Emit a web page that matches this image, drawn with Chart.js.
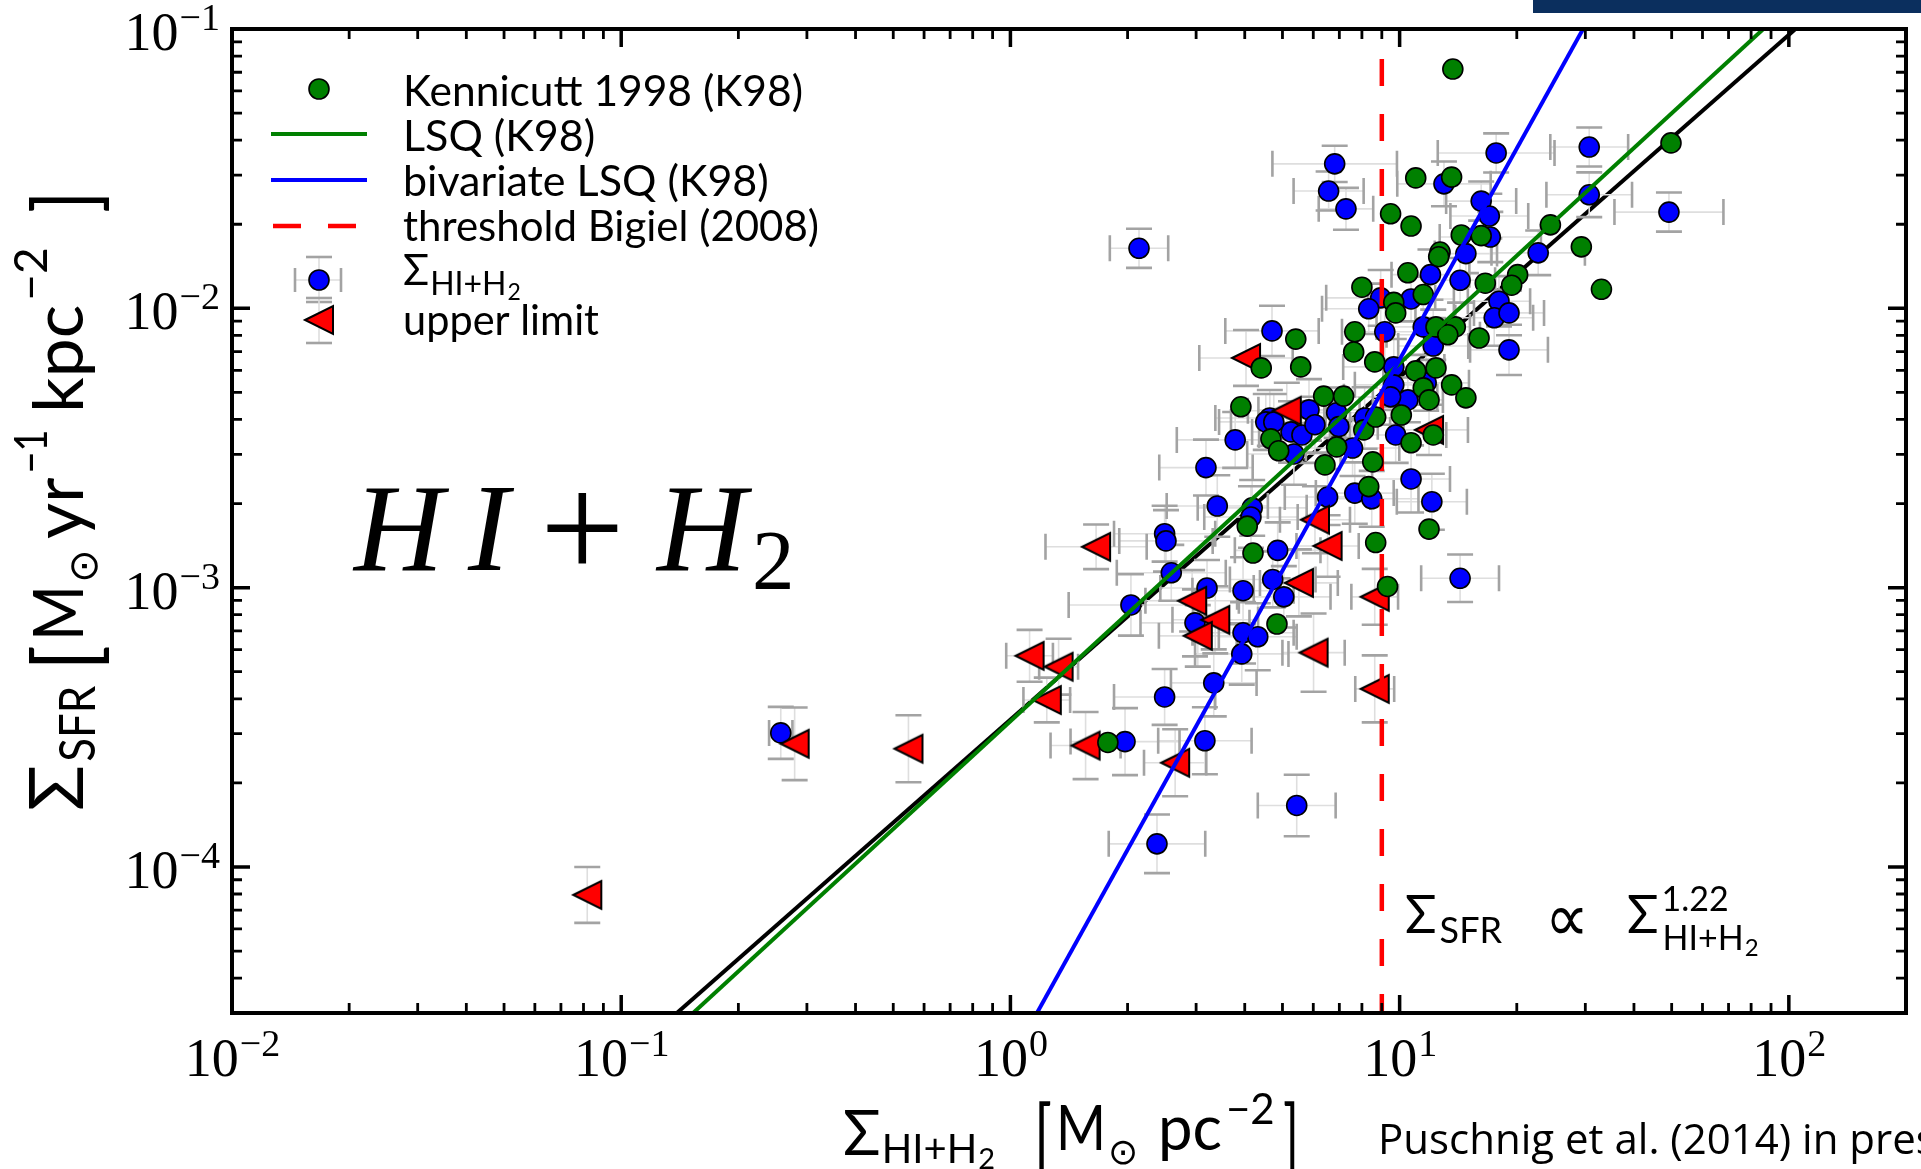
<!DOCTYPE html>
<html>
<head>
<meta charset="utf-8">
<title>SFR vs HI+H2 surface density</title>
<script src="https://cdn.jsdelivr.net/npm/chart.js@4.4.0/dist/chart.umd.min.js"></script>
<style>
  html, body { margin: 0; padding: 0; background: #fff; overflow: hidden; }
  #wrap { position: relative; width: 1921px; height: 1169px; }
</style>
</head>
<body>
<div id="wrap"><canvas id="sfrChart"></canvas></div>
<script>
// Kennicutt 1998 (K98) sample: gas surface density [Msun pc^-2], SFR density [Msun yr^-1 kpc^-2]
const k98Gas = [13.7, 49.8, 11.0, 13.6, 9.48, 10.7, 14.4, 16.2, 24.4, 29.3,
  12.7, 12.6, 10.5, 16.6, 20.1, 19.4, 33.0, 8.0, 9.66, 9.77,
  11.5, 5.41, 7.67, 12.4, 13.9, 13.3, 16.0, 4.41, 5.57, 7.62,
  8.63, 11.0, 12.4, 11.5, 13.6, 14.8, 11.9, 6.38, 7.18, 3.91,
  10.1, 4.67, 4.89, 6.89, 8.09, 8.68, 10.7, 12.2, 6.43, 8.53,
  8.33, 11.9, 8.68, 9.31, 4.06, 4.20, 4.84, 1.78];
const k98Sfr = [0.0719, 0.0391, 0.0293, 0.0295, 0.0218, 0.0197, 0.0183, 0.0182, 0.0199, 0.0166,
  0.0159, 0.0153, 0.0134, 0.0123, 0.0132, 0.0121, 0.0117, 0.0119, 0.0105, 0.00963,
  0.0112, 0.00776, 0.00824, 0.00858, 0.00858, 0.00804, 0.00783, 0.00612, 0.00617, 0.00698,
  0.00643, 0.00597, 0.00612, 0.00519, 0.00532, 0.00478, 0.00470, 0.00485, 0.00485, 0.00444,
  0.00415, 0.00341, 0.00309, 0.00319, 0.00367, 0.00408, 0.00330, 0.00352, 0.00275, 0.00282,
  0.00230, 0.00162, 0.00145, 0.00101, 0.00166, 0.00133, 0.000741, 0.000279];

// Sigma HI+H2 measurements, errors in dex
const hiH2Gas = [6.81, 6.57, 7.28, 2.14, 17.7, 30.7, 13.0, 16.2, 17.0, 30.7,
  49.2, 17.1, 14.8, 22.7, 12.0, 14.3, 8.94, 8.33, 10.7, 18.0,
  17.5, 19.1, 4.70, 9.16, 12.2, 12.2, 19.1, 9.66, 9.66, 11.7,
  10.5, 9.48, 5.85, 4.64, 6.89, 3.78, 4.53, 5.26, 5.61, 6.06,
  5.35, 6.98, 7.57, 8.13, 9.77, 3.18, 3.40, 6.53, 7.67, 8.48,
  10.7, 12.1, 14.3, 4.18, 4.15, 4.86, 2.49, 2.51, 2.59, 2.04,
  3.20, 3.96, 4.72, 5.04, 2.98, 3.96, 4.32, 3.93, 3.33, 2.49,
  1.97, 3.16, 0.257, 5.44, 2.38, 4.75, 11.5];
const hiH2Sfr = [0.0329, 0.0263, 0.0227, 0.0164, 0.0360, 0.0378, 0.0279, 0.0242, 0.0214, 0.0255,
  0.0221, 0.0180, 0.0157, 0.0158, 0.0132, 0.0126, 0.0109, 0.00996, 0.0108, 0.0106,
  0.00925, 0.00963, 0.00830, 0.00824, 0.00804, 0.00733, 0.00710, 0.00617, 0.00532, 0.00541,
  0.00470, 0.00482, 0.00433, 0.00405, 0.00423, 0.00338, 0.00392, 0.00361, 0.00352, 0.00383,
  0.00301, 0.00377, 0.00316, 0.00405, 0.00352, 0.00269, 0.00196, 0.00211, 0.00218, 0.00208,
  0.00245, 0.00203, 0.00108, 0.00193, 0.00179, 0.00136, 0.00156, 0.00147, 0.00113, 0.000867,
  0.000997, 0.000975, 0.00107, 0.000927, 0.000748, 0.000689, 0.000667, 0.000579, 0.000456, 0.000406,
  0.000281, 0.000283, 0.000302, 0.000166, 0.000121, 0.00392, 0.00858];
const hiH2GasErr = [0.16, 0.09, 0.07, 0.075, 0.15, 0.10, 0.12, 0.09, 0.10, 0.11,
  0.14, 0.13, 0.08, 0.12, 0.10, 0.09, 0.14, 0.12, 0.11, 0.08,
  0.10, 0.09, 0.12, 0.11, 0.12, 0.09, 0.10, 0.13, 0.10, 0.11,
  0.09, 0.12, 0.13, 0.14, 0.10, 0.15, 0.12, 0.10, 0.11, 0.09,
  0.12, 0.10, 0.12, 0.10, 0.13, 0.12, 0.13, 0.11, 0.10, 0.12,
  0.10, 0.09, 0.10, 0.14, 0.12, 0.11, 0.13, 0.12, 0.14, 0.16,
  0.12, 0.13, 0.11, 0.12, 0.14, 0.13, 0.10, 0.12, 0.11, 0.13,
  0.14, 0.12, 0.03, 0.10, 0.124, 0.11, 0.12];
const hiH2SfrErr = [0.065, 0.07, 0.075, 0.07, 0.07, 0.07, 0.08, 0.07, 0.08, 0.08,
  0.07, 0.09, 0.07, 0.08, 0.09, 0.08, 0.10, 0.09, 0.08, 0.09,
  0.10, 0.08, 0.09, 0.10, 0.09, 0.10, 0.09, 0.10, 0.09, 0.10,
  0.08, 0.10, 0.11, 0.10, 0.09, 0.10, 0.10, 0.11, 0.10, 0.10,
  0.11, 0.09, 0.10, 0.11, 0.10, 0.10, 0.11, 0.10, 0.11, 0.10,
  0.12, 0.10, 0.085, 0.10, 0.11, 0.10, 0.10, 0.11, 0.10, 0.11,
  0.10, 0.12, 0.10, 0.11, 0.12, 0.11, 0.12, 0.11, 0.12, 0.10,
  0.12, 0.12, 0.093, 0.11, 0.105, 0.10, 0.10];

// upper limits
const limGas = [4.03, 5.13, 11.9, 6.06, 6.53, 5.51, 1.66, 2.93, 3.36, 3.03,
  6.01, 8.63, 8.63, 1.12, 1.33, 1.24, 1.56, 2.65, 0.279, 0.547, 0.0818];
const limSfr = [0.00664, 0.00430, 0.00367, 0.00175, 0.00141, 0.00104, 0.00140, 0.000897, 0.000767, 0.000672,
  0.000585, 0.000927, 0.000434, 0.000570, 0.000521, 0.000396, 0.000272, 0.000236, 0.000276, 0.000265, 0.0000794];
const limGasErr = [0.12, 0.10, 0.10, 0.09, 0.08, 0.10, 0.13, 0.12, 0.11, 0.10,
  0.08, 0.06, 0.05, 0.06, 0.05, 0.06, 0.09, 0.08, 0, 0, 0];
const limSfrErr = [0.10, 0.10, 0.09, 0.12, 0.11, 0.12, 0.08, 0.11, 0.12, 0.11,
  0.14, 0.10, 0.12, 0.093, 0.10, 0.08, 0.12, 0.12, 0.13, 0.12, 0.10];

// fit lines, end points
const lsqGas = [0.153, 86];
const lsqSfr = [3e-5, 0.1];
const bivarGas = [1.17, 29.6];
const bivarSfr = [3e-5, 0.1];
const fitGas = [0.139, 104];
const fitSfr = [3e-5, 0.1];
const bigielGas = [9.0, 9.0];
const bigielSfr = [3e-5, 0.1];

// axis ticks
const xTickVals = [1e-2, 1e-1, 1, 10, 100];
const xTickExp = ['\u22122', '\u22121', '0', '1', '2'];
const yTickVals = [1e-1, 1e-2, 1e-3, 1e-4];
const yTickExp = ['\u22121', '\u22122', '\u22123', '\u22124'];

const pts = (xs, ys) => xs.map((x, i) => ({ x: x, y: ys[i] }));

// left-pointing triangle marker
function makeTriangle() {
  const c = document.createElement('canvas');
  c.width = 34; c.height = 34;
  const g = c.getContext('2d');
  g.beginPath();
  g.moveTo(3, 17); g.lineTo(31, 3); g.lineTo(31, 31); g.closePath();
  g.fillStyle = '#ff0000'; g.fill();
  g.lineWidth = 2; g.strokeStyle = '#000'; g.lineJoin = 'miter'; g.stroke();
  return c;
}
const triangle = makeTriangle();

const BAR_COLOR = '#dedede';
const CAP_COLOR = '#a3a3a3';
const CAP = 13;
const DOT_R = 10;

// error bars, drawn just below the Sigma HI+H2 points
const errorBars = {
  id: 'errorBars',
  beforeDatasetDraw(chart, args) {
    if (!chart.data.datasets[args.index].drawErrorsBefore) return;
    const { ctx, chartArea: a, scales: { x: xs, y: ys } } = chart;
    ctx.save();
    ctx.beginPath(); ctx.rect(a.left, a.top, a.right - a.left, a.bottom - a.top); ctx.clip();
    const sets = chart.data.datasets.filter(d => d.xErr);
    const segs = [], caps = [];
    sets.forEach(d => {
      d.data.forEach((p, i) => {
        const px = xs.getPixelForValue(p.x), py = ys.getPixelForValue(p.y);
        const ex = Math.pow(10, d.xErr[i]), ey = Math.pow(10, d.yErr[i]);
        if (d.xErr[i] > 0) {
          const l = xs.getPixelForValue(p.x / ex), r = xs.getPixelForValue(p.x * ex);
          segs.push([l, py, r, py]);
          caps.push([l, py - CAP, l, py + CAP], [r, py - CAP, r, py + CAP]);
        }
        if (d.yErr[i] > 0) {
          const t = ys.getPixelForValue(p.y * ey), b = ys.getPixelForValue(p.y / ey);
          segs.push([px, t, px, b]);
          caps.push([px - CAP, t, px + CAP, t], [px - CAP, b, px + CAP, b]);
        }
      });
    });
    ctx.strokeStyle = BAR_COLOR; ctx.lineWidth = 1.6;
    ctx.beginPath();
    segs.forEach(s => { ctx.moveTo(s[0], s[1]); ctx.lineTo(s[2], s[3]); });
    ctx.stroke();
    ctx.strokeStyle = CAP_COLOR; ctx.lineWidth = 2.6;
    ctx.beginPath();
    caps.forEach(s => { ctx.moveTo(s[0], s[1]); ctx.lineTo(s[2], s[3]); });
    ctx.stroke();
    ctx.restore();
  }
};

// draw a text piece, squeezed to maxW if wider; returns the drawn width
function put(ctx, s, x, y, font, maxW) {
  ctx.font = font;
  let w = ctx.measureText(s).width;
  if (maxW && w > maxW) { ctx.fillText(s, x, y, maxW); w = maxW; } else ctx.fillText(s, x, y);
  return w;
}

// frame, inward ticks and power-of-ten tick labels
const frameTicks = {
  id: 'frameTicks',
  afterDatasetsDraw(chart) {
    const { ctx, chartArea: a, scales: { x: xs, y: ys } } = chart;
    ctx.save();
    ctx.strokeStyle = '#000';
    const tick = (v, axis, major) => {
      const len = major ? 18 : 10;
      ctx.lineWidth = major ? 3.5 : 2.8;
      ctx.beginPath();
      if (axis === 'x') {
        const p = xs.getPixelForValue(v);
        ctx.moveTo(p, a.bottom); ctx.lineTo(p, a.bottom - len);
        ctx.moveTo(p, a.top); ctx.lineTo(p, a.top + len);
      } else {
        const p = ys.getPixelForValue(v);
        ctx.moveTo(a.left, p); ctx.lineTo(a.left + len, p);
        ctx.moveTo(a.right, p); ctx.lineTo(a.right - len, p);
      }
      ctx.stroke();
    };
    for (let d = -2; d <= 2; d++) for (let m = 1; m <= 9; m++) {
      const v = m * Math.pow(10, d);
      if (v > xs.min && v < xs.max) tick(v, 'x', m === 1);
    }
    for (let d = -5; d <= -2; d++) for (let m = 1; m <= 9; m++) {
      const v = m * Math.pow(10, d);
      if (v > ys.min && v < ys.max) tick(v, 'y', m === 1);
    }
    ctx.lineWidth = 4;
    ctx.strokeRect(a.left, a.top, a.right - a.left, a.bottom - a.top);

    ctx.fillStyle = '#000';
    ctx.textBaseline = 'alphabetic';
    const big = '54px "Liberation Serif"', small = '38px "Liberation Serif"';
    xTickVals.forEach((v, i) => {
      const p = xs.getPixelForValue(v);
      ctx.font = big; const w1 = ctx.measureText('10').width;
      ctx.font = small; const w2 = ctx.measureText(xTickExp[i]).width;
      const x0 = p - (w1 + w2) / 2;
      put(ctx, '10', x0, a.bottom + 63, big);
      put(ctx, xTickExp[i], x0 + w1 + 1, a.bottom + 43, small);
    });
    yTickVals.forEach((v, i) => {
      const p = ys.getPixelForValue(v);
      ctx.font = big; const w1 = ctx.measureText('10').width;
      ctx.font = small; const w2 = ctx.measureText(yTickExp[i]).width;
      const x0 = a.left - 12 - w1 - w2 - 1;
      put(ctx, '10', x0, p + 21, big);
      put(ctx, yTickExp[i], x0 + w1 + 1, p + 1, small);
    });
    ctx.restore();
  }
};

// Sigma with a subscript like HI+H2 (the 2 nested one level lower)
function sigmaSub(ctx, x, y, sz, subSz, subMax, sub2Sz, dy1, dy2) {
  const w = put(ctx, '\u03A3', x, y, sz + 'px Lato');
  const w2 = put(ctx, 'HI+H', x + w + 1, y + dy1, subSz + 'px Lato', subMax);
  put(ctx, '2', x + w + 2 + w2, y + dy2, sub2Sz + 'px Lato');
}

// legend, axis titles and annotations
const annotations = {
  id: 'annotations',
  afterDraw(chart) {
    const ctx = chart.ctx;
    ctx.save();
    ctx.fillStyle = '#0b2f5e';
    ctx.fillRect(1533, 0, 388, 13);

    // legend symbols
    const sx = 319;
    const dot = (y, fill) => {
      ctx.beginPath(); ctx.arc(sx, y, DOT_R, 0, Math.PI * 2);
      ctx.fillStyle = fill; ctx.fill();
      ctx.lineWidth = 1.6; ctx.strokeStyle = '#000'; ctx.stroke();
    };
    const seg = (x1, y1, x2, y2, col, w) => {
      ctx.beginPath(); ctx.moveTo(x1, y1); ctx.lineTo(x2, y2);
      ctx.strokeStyle = col; ctx.lineWidth = w; ctx.stroke();
    };
    dot(89, '#008000');
    seg(271, 134, 367, 134, '#008000', 4);
    seg(271, 180, 367, 180, '#0000ff', 4);
    seg(273, 226, 301, 226, '#ff0000', 4.5);
    seg(328, 226, 356, 226, '#ff0000', 4.5);
    seg(295, 280, 341, 280, BAR_COLOR, 1.6);
    seg(sx, 257, sx, 302, BAR_COLOR, 1.6);
    seg(295, 268, 295, 292, CAP_COLOR, 2.6);
    seg(341, 268, 341, 292, CAP_COLOR, 2.6);
    seg(306, 257, 332, 257, CAP_COLOR, 2.6);
    seg(306, 302, 332, 302, CAP_COLOR, 2.6);
    dot(280, '#0000ff');
    seg(sx, 298, sx, 343, BAR_COLOR, 1.6);
    seg(306, 298, 332, 298, CAP_COLOR, 2.6);
    seg(306, 343, 332, 343, CAP_COLOR, 2.6);
    ctx.drawImage(triangle, sx - 17, 320 - 17);

    ctx.fillStyle = '#000';
    ctx.textBaseline = 'alphabetic';
    const lf = '43px Lato';
    put(ctx, 'Kennicutt 1998 (K98)', 403, 106, lf, 400);
    put(ctx, 'LSQ (K98)', 403, 151, lf, 199);
    put(ctx, 'bivariate LSQ (K98)', 403, 196, lf, 367);
    put(ctx, 'threshold Bigiel (2008)', 403, 241, lf, 416);
    sigmaSub(ctx, 403, 285, 43, 32, 84, 23, 10, 15);
    put(ctx, 'upper limit', 403, 335, lf, 196);

    // x axis title
    sigmaSub(ctx, 843, 1155, 62, 40, 97, 29, 8, 14);
    put(ctx, '[', 1034, 1162, '80px Lato', 18);
    put(ctx, 'M', 1056, 1150, '62px Lato', 50);
    put(ctx, '\u2299', 1108, 1164, '36px "DejaVu Sans"', 36);
    const wpc = put(ctx, 'pc', 1158, 1150, '62px Lato', 64);
    put(ctx, '\u22122', 1158 + wpc + 4, 1124, '42px Lato', 55);
    put(ctx, ']', 1283, 1162, '80px Lato', 16);

    // y axis title (rotated)
    ctx.save();
    ctx.translate(83, 811);
    ctx.rotate(-Math.PI / 2);
    const ws = put(ctx, '\u03A3', 0, 0, '76px Lato', 58);
    put(ctx, 'SFR', ws + 3, 12, '50px Lato', 76);
    put(ctx, '[', 140, 13, '88px Lato', 26);
    const wm = put(ctx, 'M', 170, 0, '70px Lato', 56);
    put(ctx, '\u2299', 170 + wm + 2, 14, '40px "DejaVu Sans"', 34);
    const wy = put(ctx, 'yr', 272, 0, '70px Lato', 66);
    put(ctx, '\u22121', 272 + wy + 4, -36, '46px Lato', 44);
    const wk = put(ctx, 'kpc', 398, 0, '70px Lato', 130);
    put(ctx, '\u22122', 398 + wk + 4, -36, '46px Lato', 54);
    put(ctx, ']', 598, 13, '88px Lato', 22);
    ctx.restore();

    // big label
    const it = 'italic 124px "Liberation Serif"';
    put(ctx, 'H', 354, 570, it);
    put(ctx, 'I', 468, 570, it);
    put(ctx, '+', 540, 578, '150px "Liberation Serif"');
    put(ctx, 'H', 657, 570, it);
    put(ctx, '2', 752, 589, '85px "Liberation Serif"');

    // power law annotation
    const w1 = put(ctx, '\u03A3', 1405, 933, '52px Lato', 34);
    put(ctx, 'SFR', 1405 + w1 + 3, 943, '36px Lato', 69);
    put(ctx, '\u221D', 1545, 941, '68px "DejaVu Sans"', 44);
    const w2 = put(ctx, '\u03A3', 1627, 933, '52px Lato', 34);
    put(ctx, '1.22', 1627 + w2 + 3, 911, '34px Lato', 68);
    sigmaSub(ctx, 1627 + w2 + 3, 950, 0.01, 34, 95, 24, 0, 6);

    put(ctx, 'Puschnig et al. (2014) in press', 1378, 1154, '42px "Open Sans"');
    ctx.restore();
  }
};

const lineSet = (label, xs, ys, color, width, order) => ({
  label: label, data: pts(xs, ys), showLine: true, fill: false, tension: 0,
  borderColor: color, borderWidth: width, pointRadius: 0, order: order
});

const ctx = document.getElementById('sfrChart').getContext('2d');
const sfrChart = new Chart(ctx, {
  type: 'scatter',
  data: {
    datasets: [
      lineSet('bivariate LSQ (K98)', bivarGas, bivarSfr, '#0000ff', 4, 1),
      lineSet('LSQ (K98)', lsqGas, lsqSfr, '#008000', 4, 2),
      {
        label: 'Kennicutt 1998 (K98)', data: pts(k98Gas, k98Sfr), order: 3,
        pointRadius: DOT_R, pointBackgroundColor: '#008000', pointBorderColor: '#000', pointBorderWidth: 1.6
      },
      Object.assign(lineSet('threshold Bigiel (2008)', bigielGas, bigielSfr, '#ff0000', 4.5, 4),
        { borderDash: [27, 28], borderDashOffset: 8 }),
      {
        label: 'upper limit', data: pts(limGas, limSfr), order: 5,
        pointStyle: triangle, pointRadius: 14, xErr: limGasErr, yErr: limSfrErr
      },
      {
        label: '\u03A3HI+H2', data: pts(hiH2Gas, hiH2Sfr), order: 6,
        pointRadius: DOT_R, pointBackgroundColor: '#0000ff', pointBorderColor: '#000', pointBorderWidth: 1.6,
        xErr: hiH2GasErr, yErr: hiH2SfrErr, drawErrorsBefore: true
      },
      lineSet('power law fit', fitGas, fitSfr, '#000000', 4, 7)
    ]
  },
  options: {
    responsive: true,
    maintainAspectRatio: false,
    animation: false,
    events: [],
    layout: { padding: { left: 232, right: 12, top: 29, bottom: 156 } },
    plugins: { legend: { display: false }, tooltip: { enabled: false } },
    scales: {
      x: { type: 'logarithmic', min: 0.01, max: 200, display: false },
      y: { type: 'logarithmic', min: 3e-5, max: 0.1, display: false }
    }
  },
  plugins: [errorBars, frameTicks, annotations]
});
</script>
</body>
</html>
